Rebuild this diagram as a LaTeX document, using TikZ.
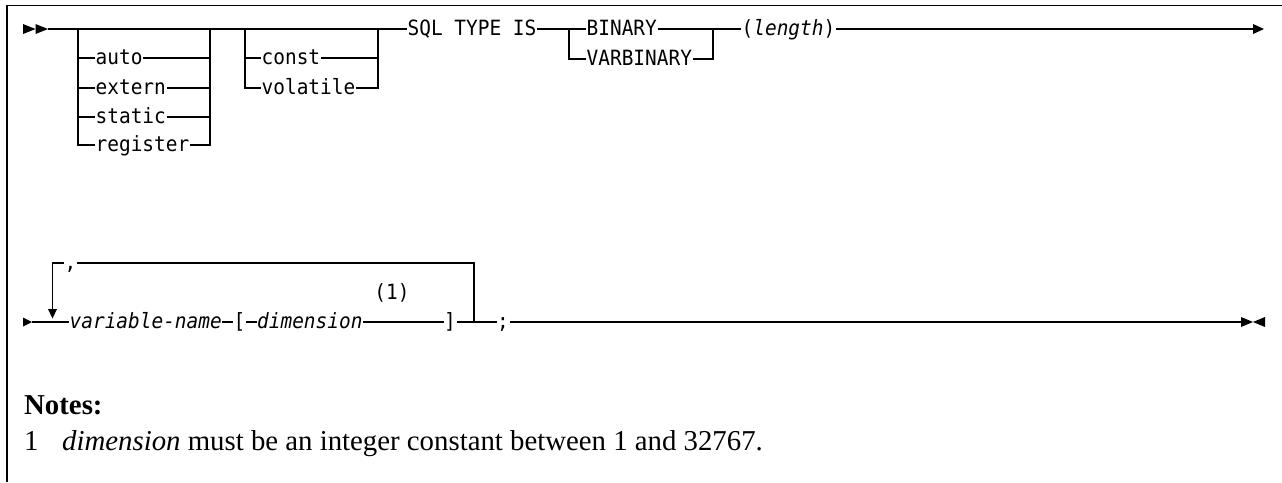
\documentclass[tikz,border=0pt]{standalone}
\usepackage{fontspec}
\setmainfont{Liberation Serif}
\newfontfamily\diamono{DejaVu Sans Mono}[FakeStretch=0.925]
\begin{document}
\begin{tikzpicture}[x=1pt,y=-1pt,
  rail/.style={line width=1.3pt},
  kw/.style={font=\fontsize{21}{21}\diamono, inner sep=0.5pt, text height=15pt, text depth=2pt, anchor=west},
  kwi/.style={kw, font=\fontsize{21}{21}\diamono\itshape},
  tipfill/.style={fill=black, draw=none},
  note/.style={font=\fontsize{28.8}{32}\selectfont, inner sep=0pt, anchor=base west}]
\useasboundingbox (0,0) rectangle (1282,482);
% frame
\draw[line width=1.5pt] (7,482) -- (7,5.5) -- (1282,5.5);

% ---------- row 1 ----------
\coordinate (s1) at (48,29);
\fill[tipfill] (23,24) -- (35.5,29) -- (23,34) -- cycle;
\fill[tipfill] (35.5,24) -- (48,29) -- (35.5,34) -- cycle;
\coordinate (e1) at (1253,29);
\fill[tipfill] (1253,24) -- (1264,29) -- (1253,34) -- cycle;

% group 1
\coordinate (g1l) at (78,29);
\coordinate (g1r) at (210,29);
\node[kw] (auto) at (95,58) {auto};
\node[kw] (extern) at (95,88) {extern};
\node[kw] (static) at (95,117) {static};
\node[kw] (register) at (95,145) {register};
\draw[rail] (g1l) -- (g1l |- register) -- (register.west);
\draw[rail] (g1r) -- (g1r |- register) -- (register.east);
\foreach \n in {auto,extern,static}{
  \draw[rail] (g1l |- \n) -- (\n.west);
  \draw[rail] (\n.east) -- (g1r |- \n);
}

% group 2
\coordinate (g2l) at (245,29);
\coordinate (g2r) at (378,29);
\node[kw] (const) at (261,58) {const};
\node[kw] (volatile) at (261,88) {volatile};
\draw[rail] (g2l) -- (g2l |- volatile) -- (volatile.west);
\draw[rail] (g2r) -- (g2r |- volatile) -- (volatile.east);
\draw[rail] (g2l |- const) -- (const.west);
\draw[rail] (const.east) -- (g2r |- const);

\node[kw] (sql) at (407,29) {SQL TYPE IS};
\draw[rail] (s1) -- (sql.west);

% group 3
\coordinate (g3l) at (569,29);
\coordinate (g3r) at (713,29);
\node[kw] (binary) at (586,29) {BINARY};
\node[kw] (varbinary) at (586,59) {VARBINARY};
\draw[rail] (sql.east) -- (binary.west);
\draw[rail] (g3l) -- (g3l |- varbinary) -- (varbinary.west);
\draw[rail] (g3r) -- (g3r |- varbinary) -- (varbinary.east);

\node[kw] (length) at (741,29) {({\itshape length})};
\draw[rail] (binary.east) -- (length.west);
\draw[rail] (length.east) -- (e1);

% ---------- row 2 ----------
\coordinate (s2) at (32,322);
\fill[tipfill] (23,317.5) -- (32,322) -- (23,326.5) -- cycle;
\coordinate (e2) at (1241,322);
\fill[tipfill] (1241,317) -- (1253,322) -- (1241,327) -- cycle;
\fill[tipfill] (1265,317) -- (1253,322) -- (1265,327) -- cycle;

\node[kwi] (var) at (69,322) {variable-name};
\node[kw] (lb) at (233,322) {[};
\node[kwi] (dim) at (256.5,322) {dimension};
\node[kw, anchor=center] (one) at (392,293) {(1)};
\node[kw] (rb) at (443.5,322) {]};
\node[kw] (semi) at (496.5,322) {;};
\coordinate (lpR) at (474,322);
\coordinate (lpL) at (52.5,309);
\node[kw] (comma) at (64,263) {,};

\draw[rail] (s2) -- (var.west);
\draw[rail] (var.east) -- (lb.west);
\draw[rail] (lb.east) -- (dim.west);
\draw[rail] (dim.east) -- (rb.west);
\draw[rail] (rb.east) -- (semi.west);
\draw[rail] (semi.east) -- (e2);
% repeat loop
\draw[rail] (lpR) -- (lpR |- comma) -- (comma.east);
\draw[rail] (comma.west) -- (lpL |- comma) -- (lpL);
\fill[tipfill] (48,309) -- (57,309) -- (52.5,318.5) -- cycle;

% ---------- notes ----------
\node[note, font=\fontsize{28.8}{32}\selectfont\bfseries] (notes) at (24,414) {Notes:};
\node[note] (n1) at (24,450) {1};
\node[note] (n1t) at (62,450) {\textit{dimension} must be an integer constant between 1 and 32767.};
\end{tikzpicture}
\end{document}
